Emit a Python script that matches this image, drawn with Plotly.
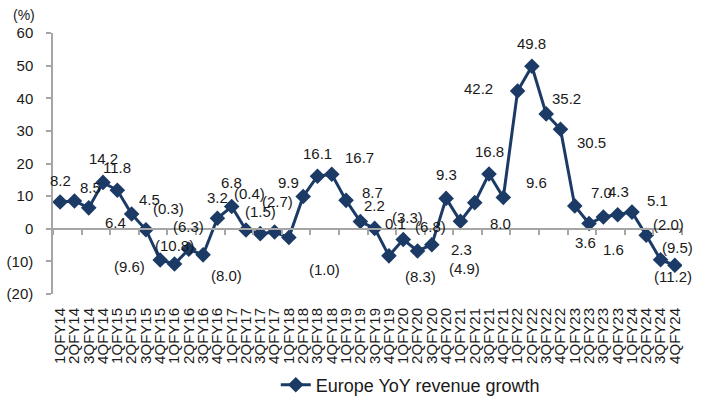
import plotly.graph_objects as go

quarters = []
for fy in range(14, 25):
    for q in range(1, 5):
        quarters.append(f"{q}QFY{fy}")

growth = [8.2, 8.5, 6.4, 14.2, 11.8, 4.5, -0.3, -9.6, -10.8, -6.3, -8.0, 3.2,
          6.8, -0.4, -1.5, -1.0, -2.7, 9.9, 16.1, 16.7, 8.7, 2.2, 0.1, -8.3,
          -3.3, -6.8, -4.9, 9.3, 2.3, 8.0, 16.8, 9.6, 42.2, 49.8, 35.2, 30.5,
          7.0, 1.6, 3.6, 4.3, 5.1, -2.0, -9.5, -11.2]

y_ticks = [-20, -10, 0, 10, 20, 30, 40, 50, 60]
y_ticktext = ["(20)", "(10)", "0", "10", "20", "30", "40", "50", "60"]

# label offsets in pixels (dx right, dy down) relative to each point
label_dx = [0, 16, 27, 0, 0, 18, 23, -31, 0, 0, 23, 0,
            0, 4, 0, 50, -11, -15, 0, 28, 26, 14, 21, 32,
            4, 13, 33, 0, 1, 26, 0, 33, -39, 0, 20, 31,
            27, 24, -18, 1, 26, 22, 17, -2]
label_dy = [-22, -14, 15, -24, -23, -15, -21, 6, -18, -23, 21, -21,
            -24, -37, -22, 37, -36, -14, -23, -17, -8, -16, -5, 21,
            -22, -24, 24, -24, 28, 21, -22, -15, -3, -23, -15, 13,
            -13, 26, 25, -23, -12, -11, -12, 11]


def fmt(v):
    return f"({abs(v):.1f})" if v < 0 else f"{v:.1f}"


navy = "#1B3A66"
grey = "#A6A6A6"
font_family = "Arial, Liberation Sans, sans-serif"

fig = go.Figure()
fig.add_trace(go.Scatter(
    x=quarters, y=growth, mode="lines+markers",
    name="Europe YoY revenue growth",
    line=dict(color=navy, width=3),
    marker=dict(symbol="diamond", size=12, color=navy),
))
# invisible trace to host the zero-line axis
fig.add_trace(go.Scatter(x=quarters, y=growth, xaxis="x2", mode="lines",
                         line=dict(width=0), opacity=0, showlegend=False,
                         hoverinfo="skip"))

for q, v, dx, dy in zip(quarters, growth, label_dx, label_dy):
    fig.add_annotation(x=q, y=v, text=fmt(v), showarrow=False,
                       xshift=dx, yshift=-dy,
                       xanchor="center", yanchor="middle",
                       font=dict(size=15, color="#1a1a1a", family=font_family))

fig.add_annotation(x=0, xref="paper", xshift=-29, y=1, yref="paper", yshift=18,
                   xanchor="center", yanchor="middle",
                   text="(%)", showarrow=False,
                   font=dict(size=14, color="#1a1a1a", family=font_family))

fig.update_layout(
    width=704, height=396,
    margin=dict(l=53, r=22, t=33, b=102, autoexpand=False),
    paper_bgcolor="white", plot_bgcolor="white",
    font=dict(family=font_family, color="#1a1a1a"),
    showlegend=True,
    legend=dict(orientation="h", x=0.568, xanchor="center", xref="paper",
                y=-0.349, yanchor="middle", yref="paper",
                font=dict(size=18, family=font_family, color="#1a1a1a"),
                bgcolor="rgba(0,0,0,0)"),
    xaxis=dict(type="category", categoryorder="array", categoryarray=quarters,
               range=[-0.5, len(quarters) - 0.5], automargin=False,
               tickmode="array", tickvals=quarters, ticktext=quarters,
               tickangle=-90, showline=False, showgrid=False, zeroline=False,
               ticks="", ticklabelstandoff=10,
               tickfont=dict(size=15, family=font_family, color="#1a1a1a")),
    xaxis2=dict(type="category", overlaying="x", matches="x",
                anchor="free", position=0.25,
                showline=True, linecolor=grey, linewidth=1.5,
                ticks="outside", tickson="boundaries", ticklen=5,
                tickcolor=grey, tickwidth=1.5,
                showticklabels=False, showgrid=False, zeroline=False),
    yaxis=dict(range=[-20, 60], tickmode="array", tickvals=y_ticks,
               ticktext=y_ticktext, showgrid=False, zeroline=False,
               automargin=False,
               showline=True, linecolor=grey, linewidth=1.5,
               ticks="outside", ticklen=5, tickcolor=grey, tickwidth=1.5,
               ticklabelstandoff=10,
               tickfont=dict(size=15, family=font_family, color="#1a1a1a")),
)

fig.write_html("out.html")
